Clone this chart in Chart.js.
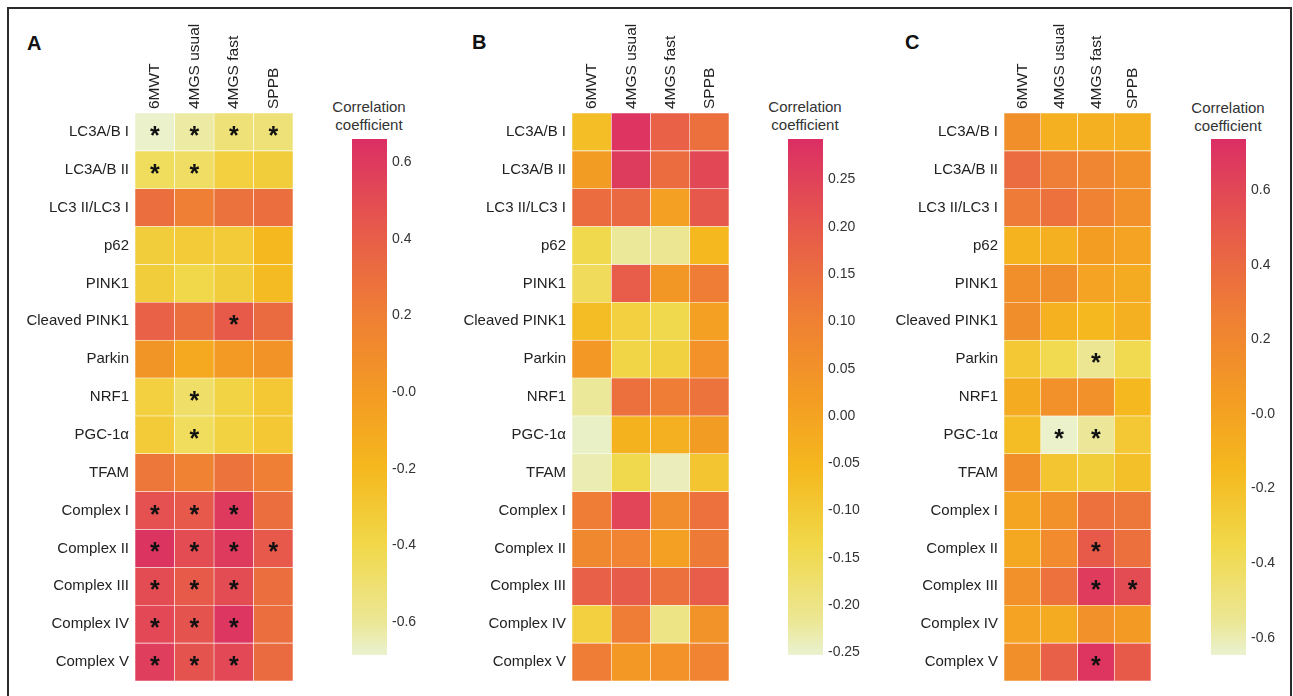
<!DOCTYPE html>
<html>
<head>
<meta charset="utf-8">
<script src="https://cdn.jsdelivr.net/npm/chart.js@4.4.0/dist/chart.umd.min.js"></script>
<style>
  body { margin: 0; background: #fff; width: 1293px; height: 696px; overflow: hidden; position: relative;
         font-family: "Liberation Sans", Arial, sans-serif; }
  #frame { position: absolute; left: 7px; top: 7px; width: 1281px; height: 720px; border: 2px solid #2b2b2b; }
  canvas { position: absolute; top: 0; }
  .letter { position: absolute; font-weight: bold; font-size: 20px; line-height: 20px; color: #111; }
  .cbt { position: absolute; width: 120px; text-align: center; font-size: 15px; line-height: 18px; color: #333; }
</style>
</head>
<body>
<div id="frame"></div>

<div class="letter" style="left:27px;top:33px">A</div>
<div class="letter" style="left:472px;top:32px">B</div>
<div class="letter" style="left:905px;top:32px">C</div>

<div class="cbt" style="left:309px;top:98px">Correlation<br>coefficient</div>
<div class="cbt" style="left:745px;top:98px">Correlation<br>coefficient</div>
<div class="cbt" style="left:1168px;top:99px">Correlation<br>coefficient</div>

<canvas id="heatA" width="280" height="696" style="left:15px"></canvas>
<canvas id="barA" width="95" height="696" style="left:352px"></canvas>
<canvas id="heatB" width="281" height="696" style="left:450px"></canvas>
<canvas id="barB" width="95" height="696" style="left:788px"></canvas>
<canvas id="heatC" width="273" height="696" style="left:880px"></canvas>
<canvas id="barC" width="95" height="696" style="left:1211px"></canvas>

<script>
const rowLabels = ["LC3A/B I", "LC3A/B II", "LC3 II/LC3 I", "p62", "PINK1", "Cleaved PINK1", "Parkin",
  "NRF1", "PGC-1α", "TFAM", "Complex I", "Complex II", "Complex III", "Complex IV", "Complex V"];
const colLabels = ["6MWT", "4MGS usual", "4MGS fast", "SPPB"];

// correlation coefficients, one row per marker (6MWT, 4MGS usual, 4MGS fast, SPPB)
const valuesA = [
  [-0.68, -0.62, -0.52, -0.52],
  [-0.45, -0.47, -0.35, -0.33],
  [0.30, 0.20, 0.28, 0.30],
  [-0.33, -0.32, -0.32, -0.20],
  [-0.33, -0.40, -0.33, -0.22],
  [0.38, 0.30, 0.42, 0.32],
  [0.04, -0.10, 0.00, 0.05],
  [-0.35, -0.48, -0.37, -0.30],
  [-0.32, -0.45, -0.36, -0.30],
  [0.25, 0.18, 0.27, 0.20],
  [0.47, 0.43, 0.60, 0.30],
  [0.63, 0.50, 0.60, 0.43],
  [0.50, 0.42, 0.50, 0.30],
  [0.52, 0.46, 0.62, 0.30],
  [0.58, 0.46, 0.52, 0.32]
];
const valuesB = [
  [-0.07, 0.28, 0.18, 0.145],
  [0.02, 0.265, 0.15, 0.24],
  [0.15, 0.16, 0.01, 0.20],
  [-0.14, -0.22, -0.215, -0.056],
  [-0.155, 0.19, 0.036, 0.112],
  [-0.068, -0.116, -0.14, 0.01],
  [0.03, -0.13, -0.12, 0.05],
  [-0.22, 0.145, 0.11, 0.135],
  [-0.247, -0.04, -0.035, 0.02],
  [-0.235, -0.14, -0.24, -0.09],
  [0.112, 0.244, 0.064, 0.14],
  [0.08, 0.09, 0.01, 0.118],
  [0.183, 0.195, 0.145, 0.19],
  [-0.116, 0.112, -0.20, 0.047],
  [0.112, 0.03, 0.05, 0.09]
];
const valuesC = [
  [0.14, -0.09, -0.09, -0.09],
  [0.38, 0.27, 0.21, 0.13],
  [0.29, 0.35, 0.24, 0.13],
  [-0.12, -0.09, 0.04, 0.00],
  [0.14, 0.15, 0.00, -0.06],
  [0.15, -0.10, -0.15, -0.09],
  [-0.25, -0.37, -0.55, -0.37],
  [-0.06, 0.13, 0.13, -0.15],
  [-0.18, -0.64, -0.56, -0.25],
  [0.14, -0.23, -0.28, -0.20],
  [-0.02, 0.13, 0.35, 0.32],
  [-0.04, 0.17, 0.49, 0.36],
  [0.13, 0.35, 0.67, 0.57],
  [0.00, -0.06, 0.13, 0.06],
  [0.14, 0.46, 0.70, 0.49]
];

// 1 = significant (asterisk)
const sigA = [[1,1,1,1],[1,1,0,0],[0,0,0,0],[0,0,0,0],[0,0,0,0],[0,0,1,0],[0,0,0,0],[0,1,0,0],
  [0,1,0,0],[0,0,0,0],[1,1,1,0],[1,1,1,1],[1,1,1,0],[1,1,1,0],[1,1,1,0]];
const sigB = rowLabels.map(() => [0, 0, 0, 0]);
const sigC = [[0,0,0,0],[0,0,0,0],[0,0,0,0],[0,0,0,0],[0,0,0,0],[0,0,0,0],[0,0,1,0],[0,0,0,0],
  [0,1,1,0],[0,0,0,0],[0,0,0,0],[0,0,1,0],[0,0,1,1],[0,0,0,0],[0,0,1,0]];

// colour scale range and colour bar ticks for each panel
const rangeA = [-0.686, 0.66];
const rangeB = [-0.253, 0.293];
const rangeC = [-0.646, 0.737];
const ticksA = [-0.6, -0.4, -0.2, 0, 0.2, 0.4, 0.6];
const tickLabelsA = ["-0.6", "-0.4", "-0.2", "-0.0", "0.2", "0.4", "0.6"];
const ticksB = [-0.25, -0.2, -0.15, -0.1, -0.05, 0, 0.05, 0.1, 0.15, 0.2, 0.25];
const tickLabelsB = ["-0.25", "-0.20", "-0.15", "-0.10", "-0.05", "0.00", "0.05", "0.10", "0.15", "0.20", "0.25"];
const ticksC = [-0.6, -0.4, -0.2, 0, 0.2, 0.4, 0.6];
const tickLabelsC = ["-0.6", "-0.4", "-0.2", "-0.0", "0.2", "0.4", "0.6"];

const cmapStops = [[0, "#eaf2cf"], [0.064, "#ece796"], [0.212, "#f1d84a"], [0.361, "#f5b81e"],
  [0.51, "#f39a24"], [0.658, "#ef7f35"], [0.807, "#e85e48"], [0.955, "#de3a5e"], [1, "#db2e64"]];

const FONT = '"Liberation Sans", Arial, sans-serif';

function hexRgb(h) {
  return [parseInt(h.slice(1, 3), 16), parseInt(h.slice(3, 5), 16), parseInt(h.slice(5, 7), 16)];
}

function colorFor(v, lo, hi) {
  const t = Math.min(1, Math.max(0, (v - lo) / (hi - lo)));
  for (let i = 1; i < cmapStops.length; i++) {
    const [t1, c1] = cmapStops[i];
    if (t <= t1) {
      const [t0, c0] = cmapStops[i - 1];
      const f = (t - t0) / (t1 - t0);
      const a = hexRgb(c0), b = hexRgb(c1);
      const rgb = a.map((x, k) => Math.round(x + (b[k] - x) * f));
      return `rgb(${rgb.join(",")})`;
    }
  }
  return cmapStops[cmapStops.length - 1][1];
}

const starPlugin = {
  id: "stars",
  afterDatasetsDraw(chart, args, opts) {
    const ctx = chart.ctx;
    ctx.save();
    ctx.font = `bold 25px ${FONT}`;
    ctx.fillStyle = "#111";
    ctx.textAlign = "center";
    ctx.textBaseline = "alphabetic";
    chart.data.datasets.forEach((ds, c) => {
      chart.getDatasetMeta(c).data.forEach((bar, r) => {
        if (opts.sig[r][c]) ctx.fillText("*", (bar.x + bar.base) / 2, bar.y + 12);
      });
    });
    ctx.restore();
  }
};

function makeHeatmap(id, values, range, sig, axisWidth) {
  const [lo, hi] = range;
  const datasets = colLabels.map((name, c) => ({
    label: name,
    data: rowLabels.map(() => [c, c + 1]),
    backgroundColor: values.map(row => colorFor(row[c], lo, hi)),
    borderColor: "rgba(255,255,255,0.5)",
    borderWidth: 0.6,
    borderSkipped: false,
    barPercentage: 1,
    categoryPercentage: 1,
    grouped: false
  }));

  new Chart(document.getElementById(id), {
    type: "bar",
    data: { labels: rowLabels, datasets },
    plugins: [starPlugin],
    options: {
      indexAxis: "y",
      responsive: false,
      animation: false,
      devicePixelRatio: 1,
      layout: { padding: { right: 2, bottom: 15 } },
      plugins: {
        legend: { display: false },
        tooltip: { enabled: false },
        stars: { sig }
      },
      scales: {
        x: {
          type: "linear",
          position: "top",
          min: 0,
          max: 4,
          grid: { display: false, drawTicks: false },
          border: { display: false },
          afterBuildTicks: s => { s.ticks = colLabels.map((n, i) => ({ value: i + 0.5 })); },
          afterFit: s => { s.height = 113; },
          ticks: {
            autoSkip: false,
            minRotation: 90,
            maxRotation: 90,
            padding: 4,
            labelOffset: 19,
            color: "#222",
            font: { family: FONT, size: 15.5 },
            callback: (v, i) => colLabels[i]
          }
        },
        y: {
          grid: { display: false, drawTicks: false },
          border: { display: false },
          afterFit: s => { s.width = axisWidth; },
          ticks: { padding: 6, color: "#222", font: { family: FONT, size: 15 } }
        }
      }
    }
  });
}

function makeColorbar(id, range, ticks, tickLabels) {
  const [lo, hi] = range;
  new Chart(document.getElementById(id), {
    type: "bar",
    data: {
      labels: [""],
      datasets: [{
        data: [[lo, hi]],
        backgroundColor: ctx => {
          const chart = ctx.chart;
          if (!chart.chartArea) return null;
          const y = chart.scales.y;
          const g = chart.ctx.createLinearGradient(0, y.getPixelForValue(lo), 0, y.getPixelForValue(hi));
          cmapStops.forEach(([t, col]) => g.addColorStop(t, col));
          return g;
        },
        borderWidth: 0,
        barPercentage: 1,
        categoryPercentage: 1
      }]
    },
    options: {
      responsive: false,
      animation: false,
      devicePixelRatio: 1,
      layout: { padding: { top: 139, bottom: 41 } },
      plugins: { legend: { display: false }, tooltip: { enabled: false } },
      scales: {
        x: { display: false },
        y: {
          position: "right",
          min: lo,
          max: hi,
          grid: { display: false, drawTicks: false },
          border: { display: false },
          afterBuildTicks: s => { s.ticks = ticks.map(v => ({ value: v })); },
          afterFit: s => { s.width = 60; },
          ticks: {
            padding: 5,
            color: "#333",
            font: { family: FONT, size: 14 },
            callback: (v, i) => tickLabels[i]
          }
        }
      }
    }
  });
}

makeHeatmap("heatA", valuesA, rangeA, sigA, 120);
makeHeatmap("heatB", valuesB, rangeB, sigB, 122);
makeHeatmap("heatC", valuesC, rangeC, sigC, 124);
makeColorbar("barA", rangeA, ticksA, tickLabelsA);
makeColorbar("barB", rangeB, ticksB, tickLabelsB);
makeColorbar("barC", rangeC, ticksC, tickLabelsC);
</script>
</body>
</html>
